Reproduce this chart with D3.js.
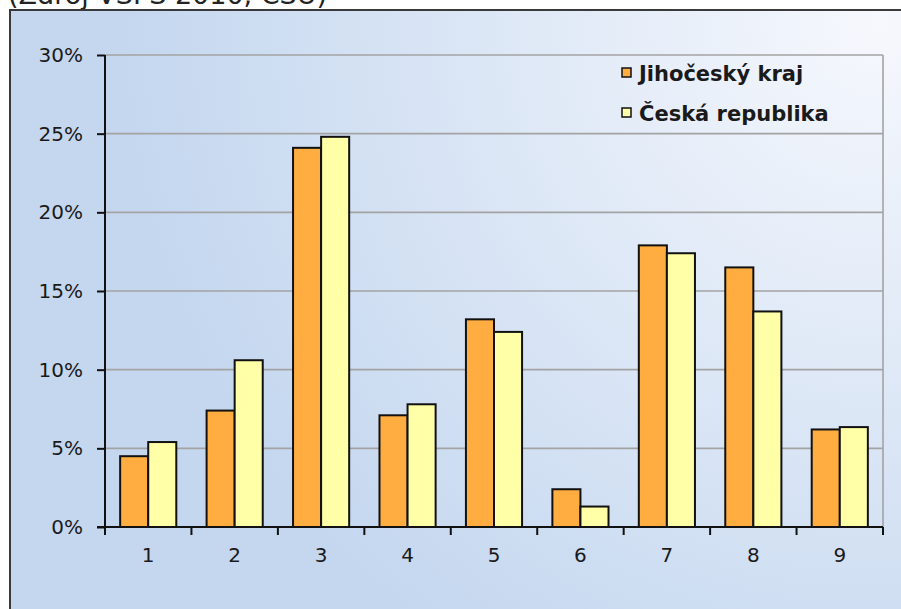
<!DOCTYPE html>
<html>
<head>
<meta charset="utf-8">
<script src="https://cdn.jsdelivr.net/npm/d3@7"></script>
<style>
  html, body { margin: 0; padding: 0; background: #fff; }
  svg { display: block; }
</style>
</head>
<body>
<script>
// data
const categories = ["1", "2", "3", "4", "5", "6", "7", "8", "9"];
const seriesNames = ["Jihočeský kraj", "Česká republika"];
const jihocesky = [4.5, 7.4, 24.1, 7.1, 13.2, 2.4, 17.9, 16.5, 6.2];
const ceskaRep = [5.4, 10.6, 24.8, 7.8, 12.4, 1.3, 17.4, 13.7, 6.35];
const yTicks = [0, 5, 10, 15, 20, 25, 30];
const colors = ["#ffad40", "#ffffa8"];

var width = 901, height = 609;
var plot = {left: 105, right: 883, top: 55, bottom: 527};

let svg = d3.select("body").append("svg")
  .attr("width", width)
  .attr("height", height);

// background gradient of the chart area
let grad = svg.append("defs").append("radialGradient")
  .attr("id", "bg")
  .attr("gradientUnits", "userSpaceOnUse")
  .attr("cx", 880).attr("cy", 20).attr("r", 760);
grad.append("stop").attr("offset", "0%").attr("stop-color", "#f6f8fd");
grad.append("stop").attr("offset", "100%").attr("stop-color", "#c4d7ef");

// source note cut off at the top
svg.append("text")
  .attr("x", 8).attr("y", 4)
  .attr("font-family", "DejaVu Sans")
  .attr("font-size", 27)
  .attr("fill", "#222")
  .text("(Zdroj VŠPS 2010, ČSÚ)");

svg.append("rect")
  .attr("x", 10).attr("y", 10)
  .attr("width", width + 20).attr("height", height + 20)
  .attr("fill", "url(#bg)")
  .attr("stroke", "#3a3a3a")
  .attr("stroke-width", 2);

let x0 = d3.scaleBand()
  .domain(categories)
  .range([plot.left, plot.right])
  .padding(0);

let x1 = d3.scaleBand()
  .domain(seriesNames)
  .range([0, x0.bandwidth()])
  .paddingInner(0)
  .paddingOuter(0.54);

let y = d3.scaleLinear()
  .domain([0, 30])
  .range([plot.bottom, plot.top]);

// gridlines
svg.append("g")
  .selectAll("line")
  .data(yTicks.filter(d => d > 0))
  .join("line")
  .attr("x1", plot.left).attr("x2", plot.right)
  .attr("y1", d => y(d)).attr("y2", d => y(d))
  .attr("stroke", "#a3a3a3")
  .attr("stroke-width", 1.6);

// right border of plot area
svg.append("line")
  .attr("x1", plot.right).attr("x2", plot.right)
  .attr("y1", plot.top).attr("y2", plot.bottom)
  .attr("stroke", "#a3a3a3")
  .attr("stroke-width", 1.6);

// bars
let rows = categories.map((c, i) => ({cat: c, values: [jihocesky[i], ceskaRep[i]]}));

svg.append("g")
  .selectAll("g")
  .data(rows)
  .join("g")
  .attr("transform", d => `translate(${x0(d.cat)},0)`)
  .selectAll("rect")
  .data(d => d.values.map((v, k) => ({name: seriesNames[k], value: v, k: k})))
  .join("rect")
  .attr("x", d => x1(d.name))
  .attr("y", d => y(d.value))
  .attr("width", x1.bandwidth())
  .attr("height", d => y(0) - y(d.value))
  .attr("fill", d => colors[d.k])
  .attr("stroke", "#111")
  .attr("stroke-width", 2);

// y axis
let yAxis = svg.append("g")
  .attr("transform", `translate(${plot.left},0)`)
  .call(d3.axisLeft(y).tickValues(yTicks).tickFormat(d => d + "%").tickSize(8).tickPadding(14));

// x axis with ticks at band edges
let edges = d3.range(categories.length + 1).map(i => plot.left + i * x0.step());
let xAxis = svg.append("g")
  .attr("transform", `translate(0,${plot.bottom})`);
xAxis.append("line")
  .attr("x1", plot.left - 8).attr("x2", plot.right)
  .attr("stroke", "#111").attr("stroke-width", 2);
xAxis.selectAll("line.tick")
  .data(edges)
  .join("line")
  .attr("class", "tick")
  .attr("x1", d => d).attr("x2", d => d)
  .attr("y1", 0).attr("y2", 8)
  .attr("stroke", "#111").attr("stroke-width", 2);
xAxis.selectAll("text")
  .data(categories)
  .join("text")
  .attr("x", d => x0(d) + x0.bandwidth() / 2)
  .attr("y", 35)
  .attr("text-anchor", "middle")
  .attr("font-family", "DejaVu Sans")
  .attr("font-size", 20)
  .attr("fill", "#1a1a1a")
  .text(d => d);

yAxis.select(".domain").attr("stroke", "#111").attr("stroke-width", 2)
  .attr("d", `M0,${plot.top}V${plot.bottom + 8}`);
yAxis.selectAll(".tick line").attr("stroke", "#111").attr("stroke-width", 2);
yAxis.selectAll(".tick text")
  .attr("font-family", "DejaVu Sans")
  .attr("font-size", 20)
  .attr("fill", "#1a1a1a");

// legend
let legend = svg.append("g")
  .selectAll("g")
  .data(seriesNames)
  .join("g")
  .attr("transform", (d, i) => `translate(622,${73 + i * 40})`);
legend.append("rect")
  .attr("x", 0).attr("y", -5)
  .attr("width", 9).attr("height", 9)
  .attr("fill", (d, i) => colors[i])
  .attr("stroke", "#111")
  .attr("stroke-width", 1.5);
legend.append("text")
  .attr("x", 17).attr("y", 0)
  .attr("dy", "0.36em")
  .attr("font-family", "DejaVu Sans")
  .attr("font-weight", "bold")
  .attr("font-size", 21)
  .attr("fill", "#1a1a1a")
  .text(d => d);
</script>
</body>
</html>
